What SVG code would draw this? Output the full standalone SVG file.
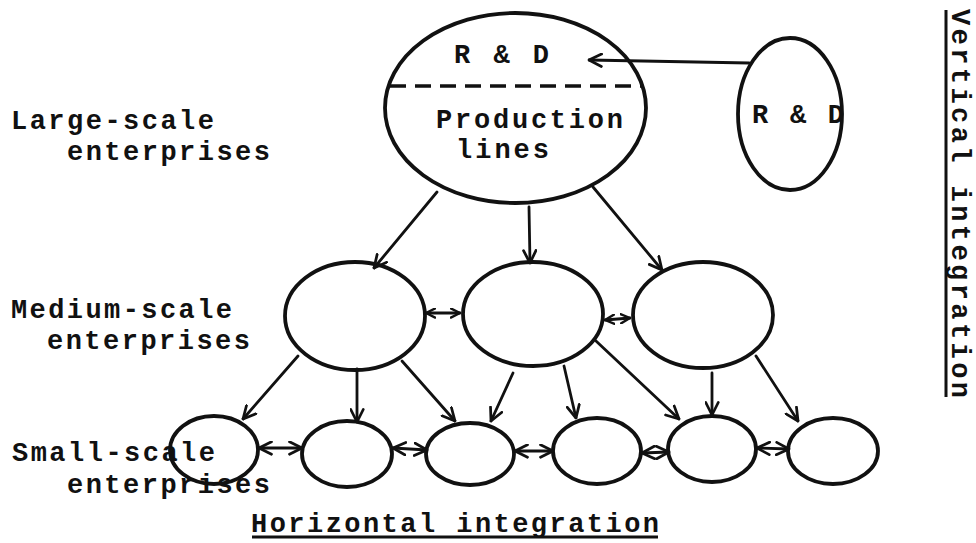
<svg xmlns="http://www.w3.org/2000/svg" width="976" height="543" viewBox="0 0 976 543">
  <style>
    .node { fill: none; stroke: #111; stroke-width: 3.8; }
    .conn { fill: none; stroke: #111; stroke-width: 2.8; stroke-linecap: round; }
    .t { font-family: "Liberation Mono", "DejaVu Sans Mono", monospace; font-size: 27px; font-weight: bold; fill: #111; }
    .ul { stroke: #111; stroke-width: 3; }
  </style>
  <defs>
    <marker id="ah" viewBox="0 0 12 12" refX="11" refY="6" markerWidth="15" markerHeight="15" markerUnits="userSpaceOnUse" orient="auto-start-reverse">
      <path d="M1,1 L11,6 L1,11" fill="none" stroke="#111" stroke-width="2.2" stroke-linecap="round" stroke-linejoin="round"/>
    </marker>
    <marker id="ahs" viewBox="0 0 12 12" refX="11" refY="6" markerWidth="11" markerHeight="11" markerUnits="userSpaceOnUse" orient="auto-start-reverse">
      <path d="M1,1 L11,6 L1,11" fill="none" stroke="#111" stroke-width="2.6" stroke-linecap="round" stroke-linejoin="round"/>
    </marker>
  </defs>

  <!-- Nodes -->
  <g id="large-enterprise">
    <ellipse class="node" cx="515.5" cy="108" rx="130.5" ry="95"/>
    <line x1="390" y1="86" x2="641" y2="86" stroke="#111" stroke-width="3.5" stroke-dasharray="16 9"/>
    <text class="t" x="454" y="63" textLength="95" lengthAdjust="spacing">R &amp; D</text>
    <text class="t" x="436" y="128" textLength="187" lengthAdjust="spacing">Production</text>
    <text class="t" x="456" y="158" textLength="93" lengthAdjust="spacing">lines</text>
  </g>
  <g id="external-rd">
    <ellipse class="node" cx="790" cy="114" rx="52" ry="76"/>
    <text class="t" x="752" y="123" textLength="92" lengthAdjust="spacing">R &amp; D</text>
  </g>
  <g id="medium-1"><ellipse class="node" cx="355" cy="316" rx="70" ry="54"/></g>
  <g id="medium-2"><ellipse class="node" cx="533" cy="314" rx="70" ry="52"/></g>
  <g id="medium-3"><ellipse class="node" cx="703" cy="315" rx="70" ry="53"/></g>
  <g id="small-1"><ellipse class="node" cx="214" cy="450" rx="44" ry="34"/></g>
  <g id="small-2"><ellipse class="node" cx="347" cy="454" rx="45" ry="33"/></g>
  <g id="small-3"><ellipse class="node" cx="470" cy="454" rx="44" ry="31"/></g>
  <g id="small-4"><ellipse class="node" cx="597" cy="451" rx="44" ry="33"/></g>
  <g id="small-5"><ellipse class="node" cx="712" cy="449" rx="44" ry="33"/></g>
  <g id="small-6"><ellipse class="node" cx="833" cy="451" rx="45" ry="33"/></g>

  <!-- Connectors -->
  <g id="connectors">
    <line class="conn" x1="749" y1="63" x2="589" y2="60" marker-end="url(#ah)"/>
    <line class="conn" x1="437" y1="192" x2="374" y2="268" marker-end="url(#ah)"/>
    <line class="conn" x1="529" y1="207" x2="530" y2="263" marker-end="url(#ah)"/>
    <line class="conn" x1="593" y1="187" x2="662" y2="270" marker-end="url(#ah)"/>

    <line class="conn" x1="426" y1="313" x2="460" y2="313" marker-start="url(#ahs)" marker-end="url(#ahs)"/>
    <line class="conn" x1="605" y1="320" x2="630" y2="318" marker-start="url(#ahs)" marker-end="url(#ahs)"/>

    <line class="conn" x1="298" y1="356" x2="243" y2="419" marker-end="url(#ah)"/>
    <line class="conn" x1="357" y1="369" x2="357" y2="422" marker-end="url(#ah)"/>
    <line class="conn" x1="402" y1="361" x2="455" y2="421" marker-end="url(#ah)"/>
    <line class="conn" x1="513" y1="373" x2="491" y2="421" marker-end="url(#ah)"/>
    <line class="conn" x1="564" y1="366" x2="576" y2="418" marker-end="url(#ah)"/>
    <line class="conn" x1="596" y1="341" x2="679" y2="419" marker-end="url(#ah)"/>
    <line class="conn" x1="712" y1="373" x2="712" y2="415" marker-end="url(#ah)"/>
    <line class="conn" x1="756" y1="356" x2="798" y2="421" marker-end="url(#ah)"/>

    <line class="conn" x1="259" y1="448" x2="302" y2="448" marker-start="url(#ah)" marker-end="url(#ah)"/>
    <line class="conn" x1="393" y1="448" x2="427" y2="450" marker-start="url(#ah)" marker-end="url(#ah)"/>
    <line class="conn" x1="515" y1="451" x2="553" y2="451" marker-start="url(#ah)" marker-end="url(#ah)"/>
    <line class="conn" x1="642" y1="453" x2="669" y2="452" marker-start="url(#ah)" marker-end="url(#ah)"/>
    <line class="conn" x1="757" y1="448" x2="789" y2="449" marker-start="url(#ah)" marker-end="url(#ah)"/>
  </g>

  <!-- Labels -->
  <g id="labels">
    <text class="t" x="11" y="129" textLength="203" lengthAdjust="spacing">Large-scale</text>
    <text class="t" x="67" y="160" textLength="203" lengthAdjust="spacing">enterprises</text>
    <text class="t" x="11" y="318" textLength="221" lengthAdjust="spacing">Medium-scale</text>
    <text class="t" x="47" y="349" textLength="203" lengthAdjust="spacing">enterprises</text>
    <text class="t" x="12" y="461" textLength="203" lengthAdjust="spacing">Small-scale</text>
    <text class="t" x="67" y="493" textLength="203" lengthAdjust="spacing">enterprises</text>
    <text class="t" x="251" y="532" textLength="408" lengthAdjust="spacing">Horizontal integration</text>
    <line class="ul" x1="252" y1="537" x2="658" y2="537"/>
    <text class="t" transform="translate(952,9) rotate(90)" x="0" y="0" textLength="389" lengthAdjust="spacing">Vertical integration</text>
    <line class="ul" x1="946" y1="10" x2="946" y2="397"/>
  </g>
</svg>
